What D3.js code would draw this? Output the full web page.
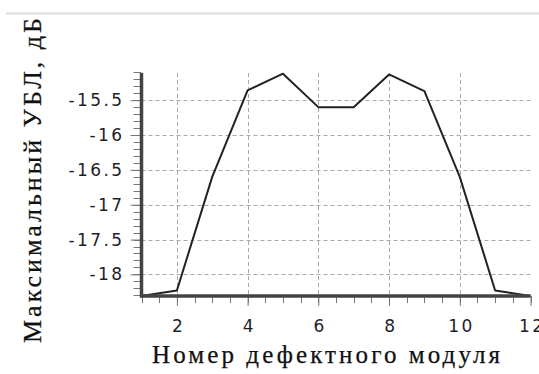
<!DOCTYPE html>
<html><head><meta charset="utf-8">
<script src="https://cdn.jsdelivr.net/npm/d3@7"></script>
<style>html,body{margin:0;padding:0;background:#fff;}svg{display:block;}</style>
</head><body>
<svg id="c" width="539" height="374"></svg>
<script>
const modules = [1,2,3,4,5,6,7,8,9,10,11,12];
const maxSLL = [-18.31,-18.23,-16.6,-15.36,-15.12,-15.6,-15.6,-15.13,-15.37,-16.6,-18.23,-18.31];
const xTicks = [2,4,6,8,10,12];
const yTicks = [-15.5,-16,-16.5,-17,-17.5,-18];
const yTickLabels = ["-15.5","-16","-16.5","-17","-17.5","-18"];
const xTitle = "Номер дефектного модуля";
const yTitle = "Максимальный УБЛ, дБ";

const svg = d3.select("#c");
const x = d3.scaleLinear().domain([1,12]).range([141.5,530.5]);
const y = d3.scaleLinear().domain([-18.31,-15.11]).range([296,73]);

// top separator line
svg.append("line").attr("x1",6).attr("x2",539).attr("y1",13.5).attr("y2",13.5)
  .attr("stroke","#dcdcdc").attr("stroke-width",2);

// grid
const g = svg.append("g");
g.selectAll(".vg").data(xTicks.filter(d=>d<12)).join("line")
  .attr("x1",d=>Math.round(x(d))+0.5).attr("x2",d=>Math.round(x(d))+0.5)
  .attr("y1",y.range()[1]).attr("y2",y.range()[0])
  .attr("stroke","#a8a8a8").attr("stroke-dasharray","4,3");
g.selectAll(".hg").data(yTicks).join("line")
  .attr("y1",d=>Math.round(y(d))+0.5).attr("y2",d=>Math.round(y(d))+0.5)
  .attr("x1",x.range()[0]).attr("x2",x.range()[1])
  .attr("stroke","#a8a8a8").attr("stroke-dasharray","4,3");

// minor ticks
const yMinor = d3.range(-18.3,-15.09,0.1);
svg.append("g").selectAll("line").data(yMinor).join("line")
  .attr("x1",x.range()[0]-8).attr("x2",x.range()[0])
  .attr("y1",d=>Math.round(y(d))+0.5).attr("y2",d=>Math.round(y(d))+0.5)
  .attr("stroke","#777").attr("stroke-width",1);
const xMinor = d3.range(1,12.01,0.5);
svg.append("g").selectAll("line").data(xMinor).join("line")
  .attr("x1",d=>Math.round(x(d))+0.5).attr("x2",d=>Math.round(x(d))+0.5)
  .attr("y1",y.range()[0]).attr("y2",y.range()[0]+7)
  .attr("stroke","#777").attr("stroke-width",1);

// y axis via d3
const yAxis = d3.axisLeft(y).tickValues(yTicks).tickFormat((d,i)=>yTickLabels[i]).tickSize(11).tickPadding(6);
const ya = svg.append("g").attr("transform",`translate(${x.range()[0]},0)`).call(yAxis);
ya.select(".domain").remove();
ya.selectAll(".tick line").attr("stroke","#777");
ya.selectAll(".tick text").attr("font-family","DejaVu Sans").attr("font-size",17).attr("fill","#1e1e2a").attr("letter-spacing","2.4px");

const xAxis = d3.axisBottom(x).tickValues(xTicks).tickFormat(d3.format("d")).tickSize(10).tickPadding(14);
const xa = svg.append("g").attr("transform",`translate(0,${y.range()[0]})`).call(xAxis);
xa.select(".domain").remove();
xa.selectAll(".tick line").attr("stroke","#777");
xa.selectAll(".tick text").attr("font-family","DejaVu Sans").attr("font-size",17).attr("fill","#1e1e2a").attr("letter-spacing","2.4px").attr("dx","1.2");

// data line
svg.append("path").datum(modules.map((m,i)=>[m,maxSLL[i]]))
  .attr("d",d3.line().x(d=>x(d[0])).y(d=>y(d[1])))
  .attr("fill","none").attr("stroke","#222").attr("stroke-width",2).attr("stroke-linejoin","round");

// axis lines
svg.append("line").attr("x1",x.range()[0]).attr("x2",x.range()[0]).attr("y1",y.range()[1]).attr("y2",y.range()[0]+1.5)
  .attr("stroke","#444").attr("stroke-width",3.5);
svg.append("line").attr("x1",x.range()[0]-1.5).attr("x2",x.range()[1]).attr("y1",y.range()[0]).attr("y2",y.range()[0])
  .attr("stroke","#444").attr("stroke-width",3.5);

// titles
svg.append("text").attr("x",326).attr("y",363).attr("text-anchor","middle")
  .attr("font-family","Liberation Serif").attr("font-size",25).attr("fill","#111")
  .attr("stroke","#111").attr("stroke-width",0.25)
  .attr("textLength",348).attr("lengthAdjust","spacing").text(xTitle);
svg.append("text").attr("transform","translate(41,180.5) rotate(-90)").attr("text-anchor","middle")
  .attr("font-family","Liberation Serif").attr("font-size",26).attr("fill","#111")
  .attr("stroke","#111").attr("stroke-width",0.25)
  .attr("textLength",325).attr("lengthAdjust","spacing").text(yTitle);
</script>
</body></html>
